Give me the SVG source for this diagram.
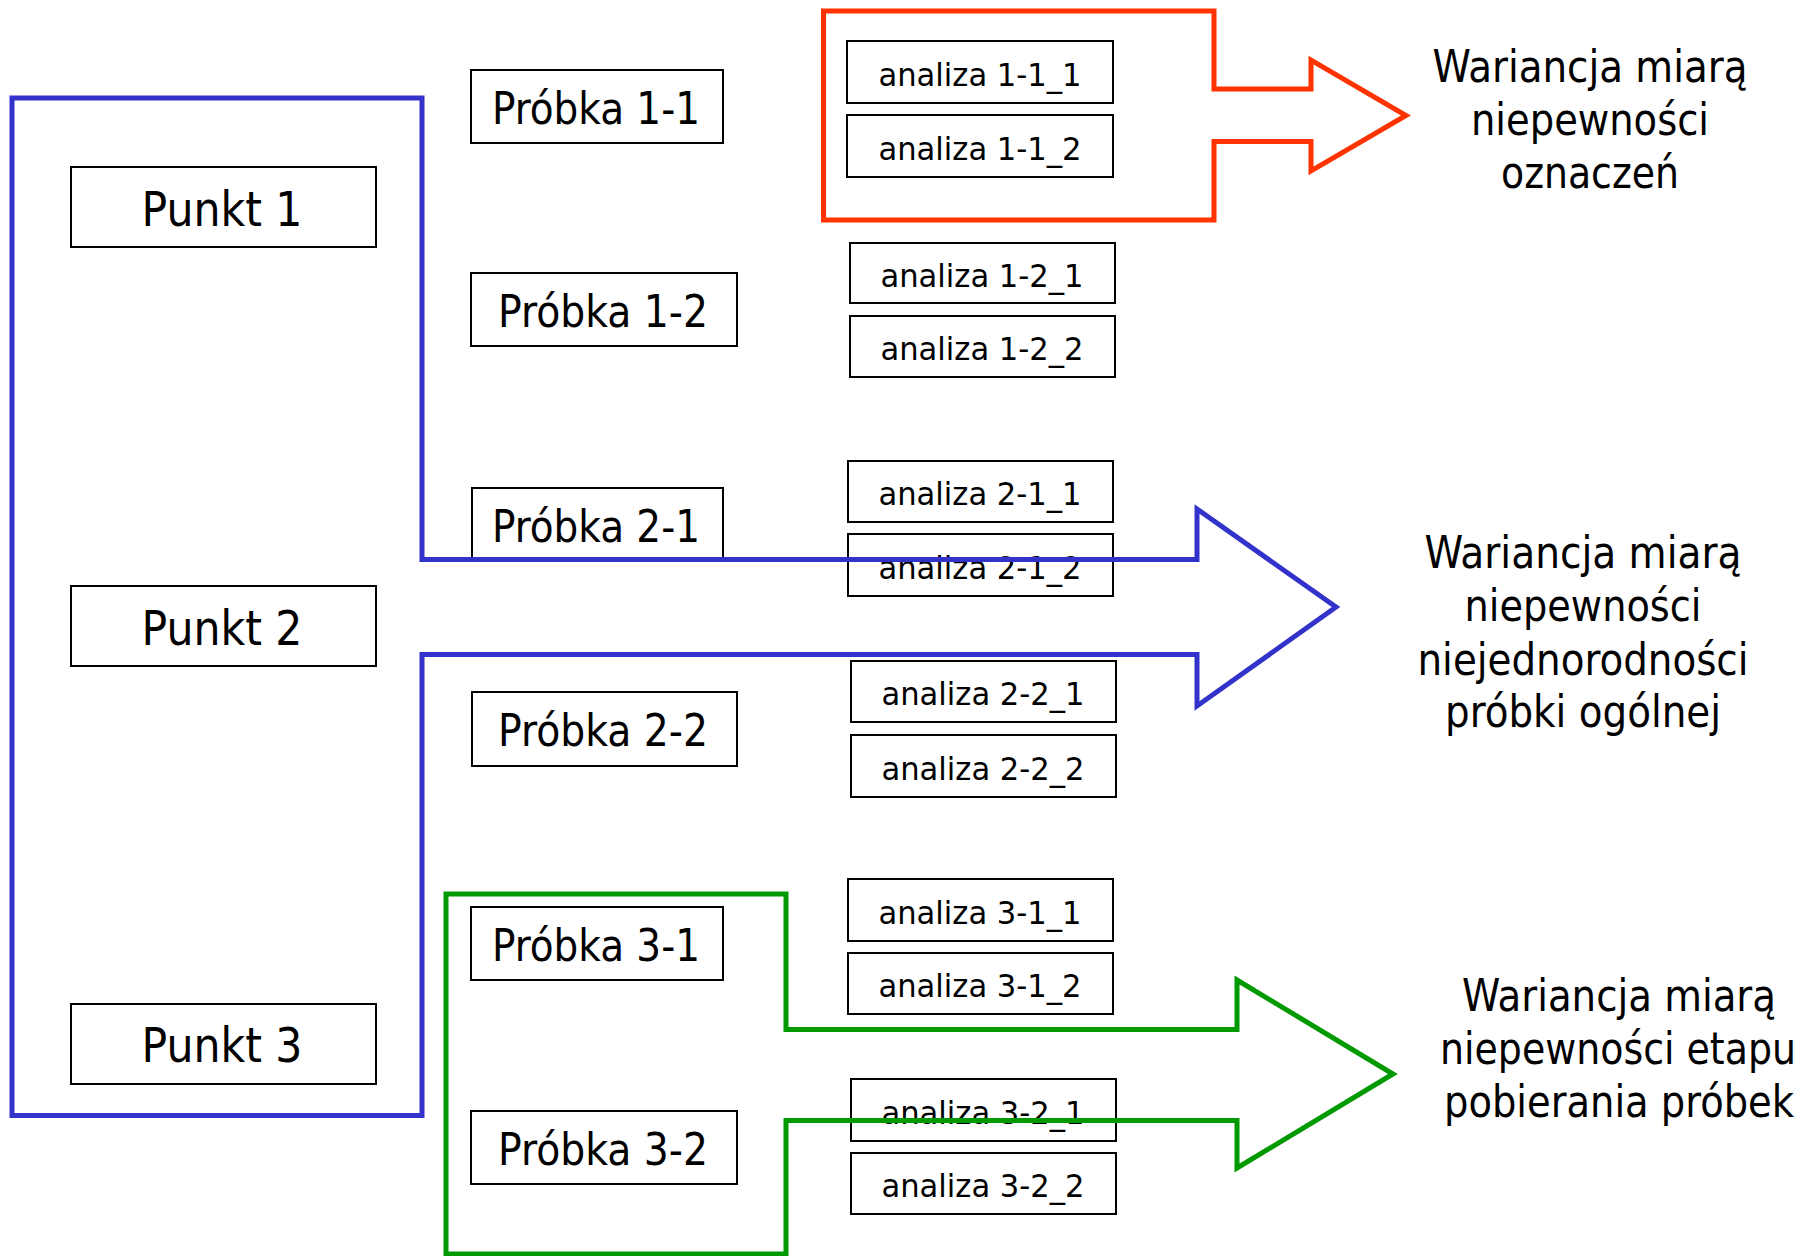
<svg xmlns="http://www.w3.org/2000/svg" width="1810" height="1256" viewBox="0 0 1810 1256">
  <style>
    .box { fill: #ffffff; stroke: #000000; stroke-width: 2; }
    .t { font-family: "DejaVu Sans Condensed", "DejaVu Sans", sans-serif; fill: #000000; text-anchor: middle; }
    .punkt { font-size: 48px; }
    .probka { font-size: 44px; }
    .analiza { font-size: 32px; }
    .note { font-size: 44px; }
    .frame { fill: none; stroke-width: 5; stroke-linejoin: miter; }
  </style>
  <rect width="1810" height="1256" fill="#ffffff"/>

  <!-- sampling points -->
  <g id="punkt-1"><rect class="box" x="71" y="167" width="305" height="80"/><text class="t punkt" x="222" y="226" textLength="161" lengthAdjust="spacingAndGlyphs">Punkt 1</text></g>
  <g id="punkt-2"><rect class="box" x="71" y="586" width="305" height="80"/><text class="t punkt" x="222" y="645" textLength="161" lengthAdjust="spacingAndGlyphs">Punkt 2</text></g>
  <g id="punkt-3"><rect class="box" x="71" y="1004" width="305" height="80"/><text class="t punkt" x="222" y="1062" textLength="161" lengthAdjust="spacingAndGlyphs">Punkt 3</text></g>

  <!-- samples -->
  <g id="probka-1-1"><rect class="box" x="471" y="70" width="252" height="73"/><text class="t probka" x="596" y="124" textLength="208" lengthAdjust="spacingAndGlyphs">Próbka 1-1</text></g>
  <g id="probka-1-2"><rect class="box" x="471" y="273" width="266" height="73"/><text class="t probka" x="603" y="327" textLength="210" lengthAdjust="spacingAndGlyphs">Próbka 1-2</text></g>
  <g id="probka-2-1"><rect class="box" x="472" y="488" width="251" height="73"/><text class="t probka" x="596" y="542" textLength="208" lengthAdjust="spacingAndGlyphs">Próbka 2-1</text></g>
  <g id="probka-2-2"><rect class="box" x="472" y="692" width="265" height="74"/><text class="t probka" x="603" y="746" textLength="210" lengthAdjust="spacingAndGlyphs">Próbka 2-2</text></g>
  <g id="probka-3-1"><rect class="box" x="471" y="907" width="252" height="73"/><text class="t probka" x="596" y="961" textLength="208" lengthAdjust="spacingAndGlyphs">Próbka 3-1</text></g>
  <g id="probka-3-2"><rect class="box" x="471" y="1111" width="266" height="73"/><text class="t probka" x="603" y="1165" textLength="210" lengthAdjust="spacingAndGlyphs">Próbka 3-2</text></g>

  <!-- analyses -->
  <g id="analiza-1-1-1"><rect class="box" x="847" y="41" width="266" height="62"/><text class="t analiza" x="980" y="86" textLength="203" lengthAdjust="spacingAndGlyphs">analiza 1-1_1</text></g>
  <g id="analiza-1-1-2"><rect class="box" x="847" y="115" width="266" height="62"/><text class="t analiza" x="980" y="160" textLength="203" lengthAdjust="spacingAndGlyphs">analiza 1-1_2</text></g>
  <g id="analiza-1-2-1"><rect class="box" x="850" y="243" width="265" height="60"/><text class="t analiza" x="982" y="287" textLength="203" lengthAdjust="spacingAndGlyphs">analiza 1-2_1</text></g>
  <g id="analiza-1-2-2"><rect class="box" x="850" y="316" width="265" height="61"/><text class="t analiza" x="982" y="360" textLength="203" lengthAdjust="spacingAndGlyphs">analiza 1-2_2</text></g>
  <g id="analiza-2-1-1"><rect class="box" x="848" y="461" width="265" height="61"/><text class="t analiza" x="980" y="505" textLength="203" lengthAdjust="spacingAndGlyphs">analiza 2-1_1</text></g>
  <g id="analiza-2-1-2"><rect class="box" x="848" y="534" width="265" height="62"/><text class="t analiza" x="980" y="579" textLength="203" lengthAdjust="spacingAndGlyphs">analiza 2-1_2</text></g>
  <g id="analiza-2-2-1"><rect class="box" x="851" y="661" width="265" height="61"/><text class="t analiza" x="983" y="705" textLength="203" lengthAdjust="spacingAndGlyphs">analiza 2-2_1</text></g>
  <g id="analiza-2-2-2"><rect class="box" x="851" y="735" width="265" height="62"/><text class="t analiza" x="983" y="780" textLength="203" lengthAdjust="spacingAndGlyphs">analiza 2-2_2</text></g>
  <g id="analiza-3-1-1"><rect class="box" x="848" y="879" width="265" height="62"/><text class="t analiza" x="980" y="924" textLength="203" lengthAdjust="spacingAndGlyphs">analiza 3-1_1</text></g>
  <g id="analiza-3-1-2"><rect class="box" x="848" y="953" width="265" height="61"/><text class="t analiza" x="980" y="997" textLength="203" lengthAdjust="spacingAndGlyphs">analiza 3-1_2</text></g>
  <g id="analiza-3-2-1"><rect class="box" x="851" y="1079" width="265" height="62"/><text class="t analiza" x="983" y="1124" textLength="203" lengthAdjust="spacingAndGlyphs">analiza 3-2_1</text></g>
  <g id="analiza-3-2-2"><rect class="box" x="851" y="1153" width="265" height="61"/><text class="t analiza" x="983" y="1197" textLength="203" lengthAdjust="spacingAndGlyphs">analiza 3-2_2</text></g>

  <!-- variance captions -->
  <g id="wariancja-oznaczen">
    <text class="t note" x="1590" y="82" textLength="315" lengthAdjust="spacingAndGlyphs">Wariancja miarą</text>
    <text class="t note" x="1590" y="135" textLength="238" lengthAdjust="spacingAndGlyphs">niepewności</text>
    <text class="t note" x="1590" y="188" textLength="178" lengthAdjust="spacingAndGlyphs">oznaczeń</text>
  </g>
  <g id="wariancja-niejednorodnosci">
    <text class="t note" x="1583" y="568" textLength="317" lengthAdjust="spacingAndGlyphs">Wariancja miarą</text>
    <text class="t note" x="1583" y="621" textLength="237" lengthAdjust="spacingAndGlyphs">niepewności</text>
    <text class="t note" x="1583" y="675" textLength="331" lengthAdjust="spacingAndGlyphs">niejednorodności</text>
    <text class="t note" x="1583" y="727" textLength="276" lengthAdjust="spacingAndGlyphs">próbki ogólnej</text>
  </g>
  <g id="wariancja-pobierania">
    <text class="t note" x="1619" y="1011" textLength="314" lengthAdjust="spacingAndGlyphs">Wariancja miarą</text>
    <text class="t note" x="1618" y="1064" textLength="356" lengthAdjust="spacingAndGlyphs">niepewności etapu</text>
    <text class="t note" x="1619" y="1117" textLength="350" lengthAdjust="spacingAndGlyphs">pobierania próbek</text>
  </g>

  <!-- grouping frames with their block arrows -->
  <g id="connectors">
    <path class="frame" stroke="#FF3300" d="M1214,89 V11 H823.5 V220 H1214 V141.5 H1311 V171 L1406,115.5 L1311,60 V89 Z"/>
    <path class="frame" stroke="#3333CC" d="M422,559.5 V98 H12 V1115.5 H422 V654.5 H1197 V706 L1336,607 L1197,509 V559.5 Z"/>
    <path class="frame" stroke="#009900" d="M786,1029.5 V894 H446 V1254 H786 V1120.5 H1237 V1168 L1393,1074 L1237,980 V1029.5 Z"/>
  </g>
</svg>
